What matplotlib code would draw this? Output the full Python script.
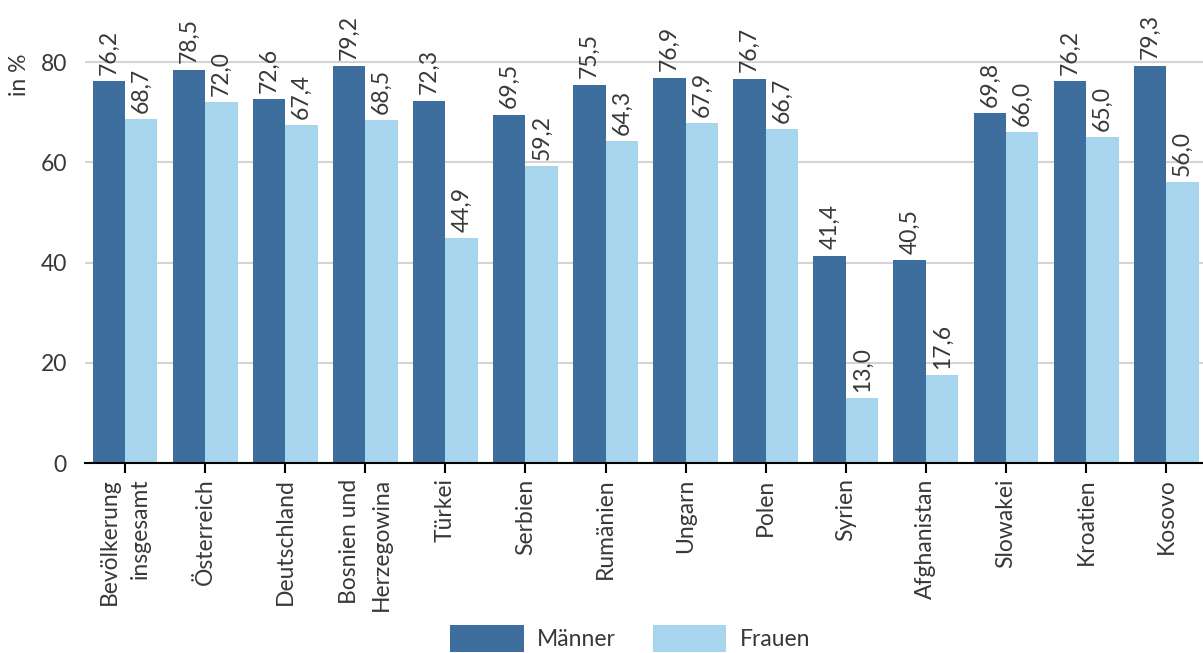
import numpy as np
import matplotlib
matplotlib.use("Agg")
import matplotlib.pyplot as plt

plt.rcParams['font.family'] = ['Lato', 'DejaVu Sans']

laender = ["Bevölkerung\ninsgesamt", "Österreich", "Deutschland", "Bosnien und\nHerzegowina",
           "Türkei", "Serbien", "Rumänien", "Ungarn", "Polen", "Syrien", "Afghanistan",
           "Slowakei", "Kroatien", "Kosovo"]
maenner = [76.2, 78.5, 72.6, 79.2, 72.3, 69.5, 75.5, 76.9, 76.7, 41.4, 40.5, 69.8, 76.2, 79.3]
frauen = [68.7, 72.0, 67.4, 68.5, 44.9, 59.2, 64.3, 67.9, 66.7, 13.0, 17.6, 66.0, 65.0, 56.0]

dunkel = "#3d6e9e"
hell = "#a7d5ee"
textfarbe = "#383838"
fs = 16.5

fig = plt.figure(figsize=(12.03, 6.53), dpi=100)
ax = fig.add_axes([85 / 1203, 190 / 653, 1 - 85 / 1203, 1 - 190 / 653])

x = np.arange(len(laender))
w = 0.405
b1 = ax.bar(x - w / 2, maenner, w, color=dunkel, label="Männer", zorder=3)
b2 = ax.bar(x + w / 2, frauen, w, color=hell, label="Frauen", zorder=3)

# Werte senkrecht über den Balken, mit Dezimalkomma
for bars, vals in [(b1, maenner), (b2, frauen)]:
    for rect, v in zip(bars, vals):
        ax.annotate(f"{v:.1f}".replace(".", ","),
                    (rect.get_x() + rect.get_width() / 2, v),
                    xytext=(0, 4.5), textcoords="offset points",
                    rotation=90, ha="center", va="bottom",
                    fontsize=fs, color=textfarbe, clip_on=False)

ax.set_xlim(-0.5, 13.46)
ax.set_ylim(0, 92.4)
ax.set_yticks([0, 20, 40, 60, 80])
ax.yaxis.grid(True, color="#d4d4d4", linewidth=1.5, zorder=0)
ax.set_axisbelow(True)

for s in ["top", "right", "left"]:
    ax.spines[s].set_visible(False)
ax.spines["bottom"].set_color("black")
ax.spines["bottom"].set_linewidth(1.5)
ax.spines["bottom"].set_zorder(4)

ax.tick_params(axis="y", length=0, pad=13, labelsize=fs, labelcolor=textfarbe)
ax.tick_params(axis="x", length=7, width=1.5, color="black", pad=4,
               labelsize=fs, labelcolor=textfarbe)
ax.set_xticks(x)
ax.set_xticklabels(laender, rotation=90, ha="center", va="top",
                   multialignment="right", linespacing=1.6)

fig.text(20 / 1203, 1 - 75 / 653, "in %", rotation=90, ha="center", va="center",
         fontsize=fs, color=textfarbe)

fig.legend(handles=[b1, b2], loc="lower center", bbox_to_anchor=(0.524, -0.03),
           ncol=2, frameon=False, fontsize=fs, handlelength=3.2, handleheight=1.45,
           columnspacing=1.6, handletextpad=0.6, labelcolor=textfarbe)

fig.savefig("out.png", dpi=100)
